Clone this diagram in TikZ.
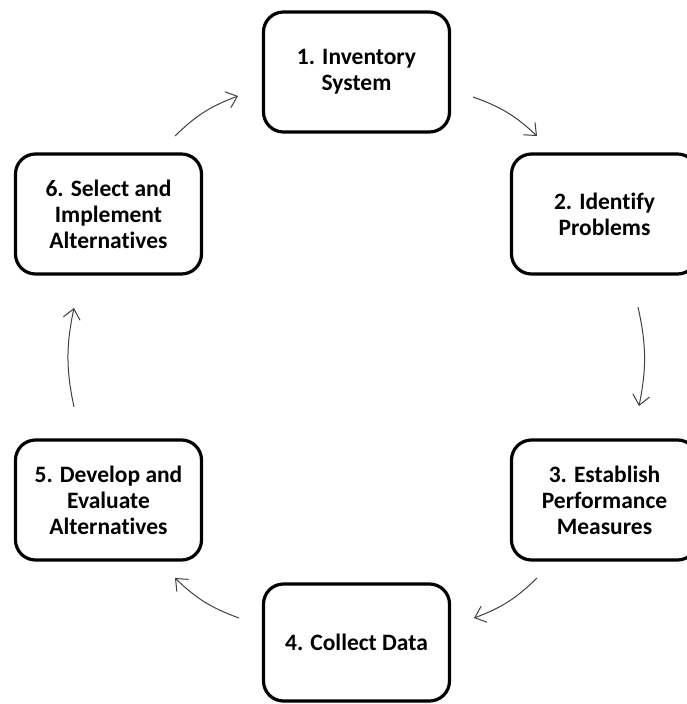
\documentclass[tikz,border=0pt]{standalone}
\usepackage{fontspec}
\setmainfont{Carlito}[Ligatures={NoCommon}]
\usetikzlibrary{arrows.meta}
\tikzset{
  stepbox/.style={draw=black, line width=3.2pt, rounded corners=20pt, fill=white,
    minimum width=186pt, minimum height=120pt, align=center, inner sep=0pt,
    font=\bfseries\fontsize{23.5}{26}\selectfont},
  flow/.style={draw=black!75, line width=1pt, bend left=12,
    -{Straight Barb[length=10pt,width=17pt]}}
}
\begin{document}
\begin{tikzpicture}[x=1pt,y=-1pt]
  \fill[white] (0,0) rectangle (687,704);
  \useasboundingbox (0,0) rectangle (687,704);
  \node[stepbox] (n1) at (356.5,72) {1. Inventory\\System};
  \node[stepbox] (n2) at (604.5,214) {2. Identify\\Problems};
  \node[stepbox] (n3) at (604.5,500) {3. Establish\\Performance\\Measures};
  \node[stepbox, minimum height=117pt] (n4) at (356.5,642.5) {4. Collect Data};
  \node[stepbox] (n5) at (108.5,500) {5. Develop and\\Evaluate\\Alternatives};
  \node[stepbox] (n6) at (108.5,214) {6. Select and\\Implement\\Alternatives};
  \coordinate (a1s) at (473,97);  \coordinate (a1e) at (537,136);
  \coordinate (a2s) at (638,307); \coordinate (a2e) at (639,406);
  \coordinate (a3s) at (537,578); \coordinate (a3e) at (474,618);
  \coordinate (a4s) at (239,618); \coordinate (a4e) at (175,578);
  \coordinate (a5s) at (74,407);  \coordinate (a5e) at (74,308);
  \coordinate (a6s) at (175,136); \coordinate (a6e) at (238,96);
  \draw[flow] (a1s) to (a1e);
  \draw[flow] (a2s) to (a2e);
  \draw[flow] (a3s) to (a3e);
  \draw[flow] (a4s) to (a4e);
  \draw[flow] (a5s) to (a5e);
  \draw[flow] (a6s) to (a6e);
\end{tikzpicture}
\end{document}
